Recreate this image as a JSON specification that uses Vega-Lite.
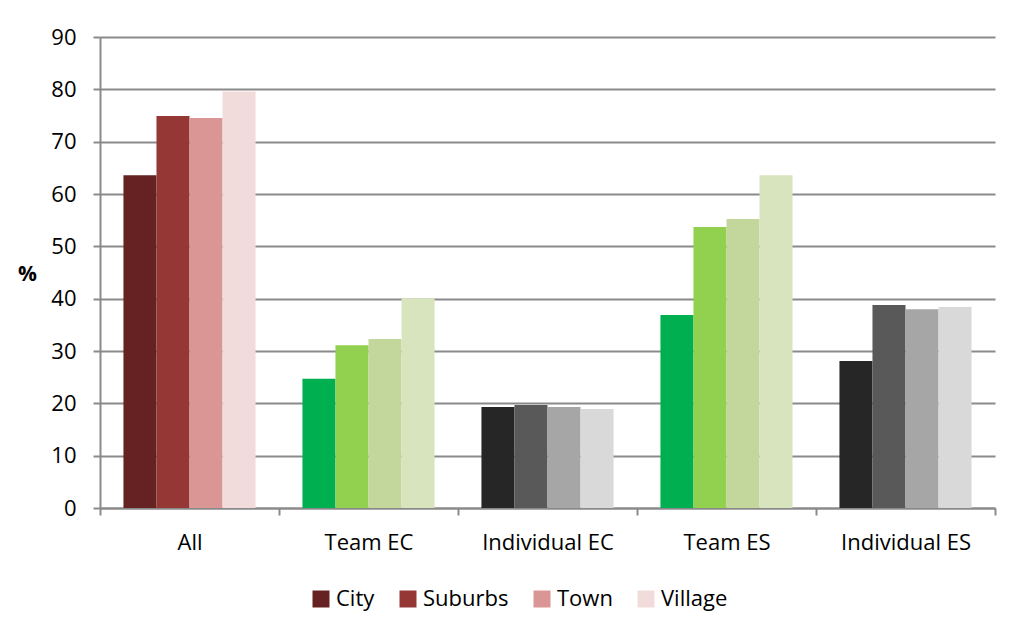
{
  "$schema": "https://vega.github.io/schema/vega-lite/v6.json",
  "width": 895,
  "height": 471,
  "autosize": "none",
  "padding": {"left": 100, "top": 37, "right": 18, "bottom": 127},
  "background": "white",
  "data": {"values": [
    {"group": "All", "area": "City", "key": "All|City", "value": 63.6},
    {"group": "All", "area": "Suburbs", "key": "All|Suburbs", "value": 74.9},
    {"group": "All", "area": "Town", "key": "All|Town", "value": 74.5},
    {"group": "All", "area": "Village", "key": "All|Village", "value": 79.6},
    {"group": "Team EC", "area": "City", "key": "Team EC|City", "value": 24.7},
    {"group": "Team EC", "area": "Suburbs", "key": "Team EC|Suburbs", "value": 31.1},
    {"group": "Team EC", "area": "Town", "key": "Team EC|Town", "value": 32.3},
    {"group": "Team EC", "area": "Village", "key": "Team EC|Village", "value": 40.1},
    {"group": "Individual EC", "area": "City", "key": "Individual EC|City", "value": 19.3},
    {"group": "Individual EC", "area": "Suburbs", "key": "Individual EC|Suburbs", "value": 19.7},
    {"group": "Individual EC", "area": "Town", "key": "Individual EC|Town", "value": 19.3},
    {"group": "Individual EC", "area": "Village", "key": "Individual EC|Village", "value": 18.9},
    {"group": "Team ES", "area": "City", "key": "Team ES|City", "value": 36.9},
    {"group": "Team ES", "area": "Suburbs", "key": "Team ES|Suburbs", "value": 53.7},
    {"group": "Team ES", "area": "Town", "key": "Team ES|Town", "value": 55.2},
    {"group": "Team ES", "area": "Village", "key": "Team ES|Village", "value": 63.6},
    {"group": "Individual ES", "area": "City", "key": "Individual ES|City", "value": 28.1},
    {"group": "Individual ES", "area": "Suburbs", "key": "Individual ES|Suburbs", "value": 38.8},
    {"group": "Individual ES", "area": "Town", "key": "Individual ES|Town", "value": 38.0},
    {"group": "Individual ES", "area": "Village", "key": "Individual ES|Village", "value": 38.4}
  ]},
  "mark": {"type": "bar"},
  "encoding": {
    "x": {
      "field": "group", "type": "nominal",
      "sort": ["All", "Team EC", "Individual EC", "Team ES", "Individual ES"],
      "scale": {"paddingInner": 0, "paddingOuter": 0},
      "axis": {
        "title": null, "labelAngle": 0, "tickBand": "extent",
        "labelFont": "Open Sans", "labelFontSize": 22, "labelColor": "#000000", "labelPadding": 17,
        "domainColor": "#8a8a8a", "domainWidth": 2, "tickColor": "#8a8a8a", "tickWidth": 2, "tickSize": 7
      }
    },
    "xOffset": {
      "field": "area", "type": "nominal",
      "sort": ["City", "Suburbs", "Town", "Village"],
      "scale": {"paddingInner": 0, "paddingOuter": 0.71}
    },
    "y": {
      "field": "value", "type": "quantitative",
      "scale": {"domain": [0, 90], "nice": false},
      "axis": {
        "title": "%", "titleAngle": 0, "titleFont": "Open Sans", "titleFontSize": 21, "titleFontWeight": "bold",
        "titleColor": "#000000", "titleX": -73, "titleY": 247, "titleAlign": "center",
        "values": [0, 10, 20, 30, 40, 50, 60, 70, 80, 90],
        "labelFont": "Open Sans", "labelFontSize": 22, "labelColor": "#000000", "labelPadding": 17,
        "grid": true, "gridColor": "#8a8a8a", "gridWidth": 2,
        "domainColor": "#8a8a8a", "domainWidth": 2, "tickColor": "#8a8a8a", "tickWidth": 2, "tickSize": 7
      }
    },
    "color": {
      "field": "key", "type": "nominal",
      "scale": {
        "domain": ["All|City", "All|Suburbs", "All|Town", "All|Village",
                   "Team EC|City", "Team EC|Suburbs", "Team EC|Town", "Team EC|Village",
                   "Individual EC|City", "Individual EC|Suburbs", "Individual EC|Town", "Individual EC|Village",
                   "Team ES|City", "Team ES|Suburbs", "Team ES|Town", "Team ES|Village",
                   "Individual ES|City", "Individual ES|Suburbs", "Individual ES|Town", "Individual ES|Village"],
        "range": ["#662222", "#953735", "#D99694", "#F2DCDB",
                  "#00B050", "#92D050", "#C3D69B", "#D7E4BD",
                  "#262626", "#595959", "#A6A6A6", "#D9D9D9",
                  "#00B050", "#92D050", "#C3D69B", "#D7E4BD",
                  "#262626", "#595959", "#A6A6A6", "#D9D9D9"]
      },
      "legend": {
        "values": ["All|City", "All|Suburbs", "All|Town", "All|Village"],
        "labelExpr": "split(datum.label, '|')[1]",
        "title": null, "orient": "none", "direction": "horizontal",
        "legendX": 210, "legendY": 551,
        "symbolType": "square", "symbolSize": 289, "symbolStrokeWidth": 0,
        "labelFont": "Open Sans", "labelFontSize": 22, "labelColor": "#000000",
        "columnPadding": 22, "labelOffset": 4
      }
    }
  },
  "config": {"view": {"stroke": null}}
}
